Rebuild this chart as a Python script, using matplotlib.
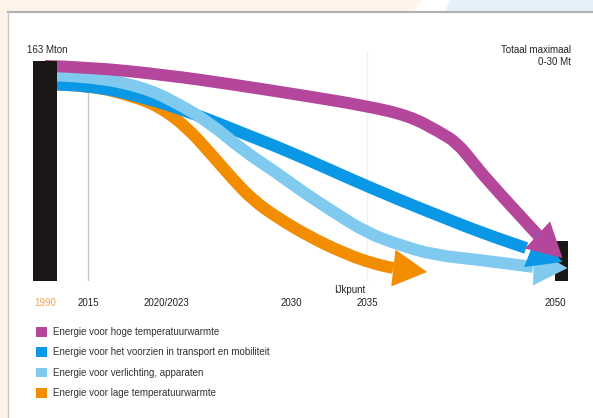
import numpy as np
import matplotlib
matplotlib.use("Agg")
import matplotlib.pyplot as plt
from matplotlib.patches import Polygon, Patch, PathPatch
from matplotlib.path import Path
from matplotlib.transforms import IdentityTransform

plt.rcParams['font.family'] = ['Liberation Sans', 'DejaVu Sans']

# ---------------- data ----------------
tick_years = [1990, 2015, 2021.5, 2030, 2035, 2050]
tick_labels = ["1990", "2015", "2020/2023", "2030", "2035", "2050"]

bar_1990 = 163      # Mton in 1990
bar_2050 = 30       # maximum total in 2050 (0-30 Mt)

purple_years = [1990, 2015, 2021.5, 2025.85, 2030.6, 2035, 2038.4, 2040.8, 2042.2, 2043.5, 2044.6, 2048.7, 2050.6]
purple_mt = [159.3, 158.5, 152.6, 145.9, 137.8, 129.6, 122.2, 110.4, 102.2, 87.4, 74.8, 33.3, 17.0]

blue_years = [1990, 2015, 2019.6, 2023.3, 2026.7, 2030.1, 2033.9, 2037.6, 2040.8, 2044.0, 2047.7, 2050.6]
blue_mt = [145.9, 145.2, 136.3, 124.4, 109.6, 94.8, 75.6, 60.0, 48.1, 36.3, 24.4, 14.1]

lblue_years = [1990, 2015, 2019.6, 2022.25, 2024.5, 2026.7, 2029.05, 2030.6, 2032.8, 2035, 2037.6, 2040.3, 2044.0, 2048.25, 2051.0]
lblue_mt = [152.6, 151.9, 143.7, 131.9, 117.0, 97.0, 80.0, 67.4, 51.1, 35.6, 26.7, 19.3, 15.6, 10.4, 9.6]

orange_years = [1990, 2015, 2018.75, 2021.0, 2022.9, 2024.5, 2026.1, 2027.4, 2029.1, 2031.25, 2033.6, 2035.6, 2037.1, 2039.8]
orange_mt = [145.9, 145.2, 137.0, 128.9, 114.1, 94.8, 74.8, 60.0, 46.7, 32.6, 20.0, 12.6, 9.6, 6.7]

legend_labels = [
    "Energie voor hoge temperatuurwarmte",
    "Energie voor het voorzien in transport en mobiliteit",
    "Energie voor verlichting, apparaten",
    "Energie voor lage temperatuurwarmte",
]

C_PURPLE = "#b4479b"
C_BLUE = "#0a97e6"
C_LBLUE = "#80caf0"
C_ORANGE = "#f28c00"
C_BLACK = "#1c1717"

# --------------- figure ----------------
W, H = 593, 418
fig = plt.figure(figsize=(W / 100, H / 100), dpi=100)
fig.patch.set_facecolor("#fdf3e9")

def fx(p):
    return p / W

def fy(p):
    return 1 - p / H

# panel and decorations (behind the axes)
fig.patches.append(plt.Rectangle((fx(8), 0), 1 - fx(8), fy(12), transform=fig.transFigure,
                                 facecolor="white", edgecolor="none", zorder=-3))
fig.patches.append(Polygon([(fx(422), 1), (fx(450), 1), (fx(445), fy(12)), (fx(413), fy(12))],
                           closed=True, transform=fig.transFigure, facecolor="white", edgecolor="none", zorder=-3))
fig.patches.append(Polygon([(fx(450), 1), (1, 1), (1, fy(12)), (fx(445), fy(12))],
                           closed=True, transform=fig.transFigure, facecolor="#e5f1f9", edgecolor="none", zorder=-3))
fig.lines.append(plt.Line2D([fx(8), 1], [fy(12), fy(12)], transform=fig.transFigure, color="#b0b0b0", lw=1.5, zorder=-2))
fig.lines.append(plt.Line2D([fx(8), fx(8)], [0, fy(12)], transform=fig.transFigure, color="#cfc6bd", lw=1.0, zorder=-2))

# axis scale: uneven spacing of the years, like the reference
scale_years = [1960, 1990, 2015, 2021.5, 2030, 2035, 2050, 2060]
scale_pos = [-6.6, 45, 88, 166, 291, 367, 555, 680]

def fwd(x):
    return np.interp(x, scale_years, scale_pos)

def inv(p):
    return np.interp(p, scale_pos, scale_years)

PX_PER_MT = 1.35
ax = fig.add_axes([0, (H - 281) / H, 1, 281 / H])
ax.set_zorder(1)
ax.set_xscale("function", functions=(fwd, inv))
ax.set_xlim(inv(0), inv(W))
ax.set_ylim(0, 281 / PX_PER_MT)
ax.patch.set_visible(False)
for s in ax.spines.values():
    s.set_visible(False)
ax.set_yticks([])
ax.set_xticks(tick_years, tick_labels)
ax.tick_params(axis="x", length=0, pad=12.5, labelsize=7, colors="#222222")
ax.get_xticklabels()[0].set_color("#f5a552")

# grid lines
ax.vlines(2015, 0, 161.5, color="#c9c9c9", lw=1, zorder=1)
ax.vlines(2035, 0, 170, color="#f1f1f1", lw=1, zorder=1)

# bars
ax.bar(1990, bar_1990, width=14, color=C_BLACK, zorder=11)
ax.bar(2050, bar_2050, width=1.05, align="edge", color=C_BLACK, zorder=2, clip_on=False)

LW = 8.6

def arrow(xs, ys, color, zl, zh, L=34, Wd=37):
    D = ax.transData.transform(np.column_stack([xs, ys]))
    line = D[:-1]
    verts = [line[0]]
    codes = [Path.MOVETO]
    for i in range(1, len(line) - 1):
        verts += [line[i], (line[i] + line[i + 1]) / 2]
        codes += [Path.CURVE3, Path.CURVE3]
    verts.append(line[-1])
    codes.append(Path.LINETO)
    pp = PathPatch(Path(np.array(verts), codes), facecolor="none", edgecolor=color, lw=LW,
                   capstyle="butt", joinstyle="round", transform=IdentityTransform(),
                   zorder=zl, clip_on=False)
    ax.add_patch(pp)
    tip = D[-1]
    d = D[-1] - D[-2]
    d = d / np.hypot(*d)
    n = np.array([-d[1], d[0]])
    base = tip - L * d
    tri = np.array([tip, base + Wd / 2 * n, base - Wd / 2 * n])
    ax.add_patch(Polygon(tri, closed=True, facecolor=color, edgecolor="none",
                         transform=IdentityTransform(), zorder=zh, clip_on=False))

arrow(orange_years, orange_mt, C_ORANGE, 3, 7)
arrow(blue_years, blue_mt, C_BLUE, 4, 9)
arrow(lblue_years, lblue_mt, C_LBLUE, 5, 8)
arrow(purple_years, purple_mt, C_PURPLE, 6, 10)

# texts
fig.text(fx(27), fy(50), "163 Mton", ha="left", va="center", fontsize=7, color="#222222")
fig.text(fx(571), fy(50), "Totaal maximaal", ha="right", va="center", fontsize=7, color="#222222")
fig.text(fx(571), fy(62), "0-30 Mt", ha="right", va="center", fontsize=7, color="#222222")
ax.annotate("IJkpunt", xy=(2035, 0), xytext=(-1, -6.5), textcoords="offset points",
            ha="right", va="center", fontsize=7, color="#222222", annotation_clip=False)

# legend
handles = [Patch(facecolor=c, edgecolor="none") for c in (C_PURPLE, C_BLUE, C_LBLUE, C_ORANGE)]
fig.legend(handles, legend_labels, loc="upper left", bbox_to_anchor=(fx(36), fy(327)),
           frameon=False, fontsize=7, handlelength=1.13, handleheight=1.13,
           handletextpad=0.62, labelspacing=1.06, borderpad=0, borderaxespad=0,
           labelcolor="#333333")

fig.savefig("out.png", dpi=100, facecolor=fig.get_facecolor())
